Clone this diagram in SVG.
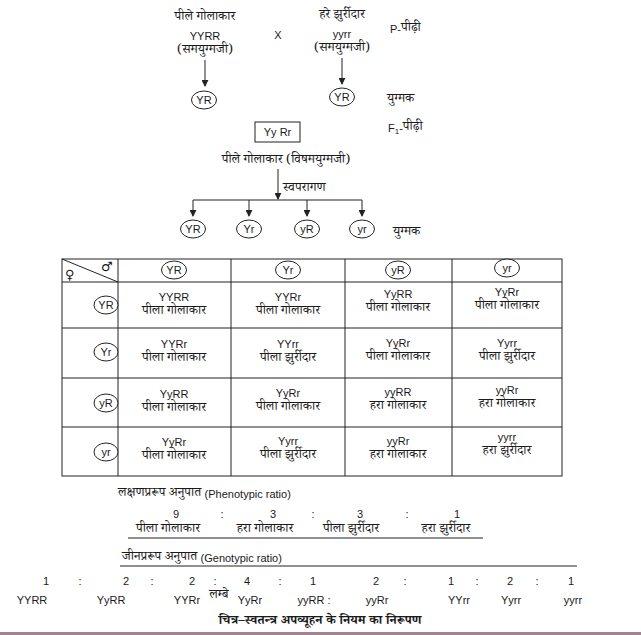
<svg xmlns="http://www.w3.org/2000/svg" width="641" height="635" viewBox="0 0 641 635">
<style>
text{fill:#1a1a1a;dominant-baseline:central}
.h{font-family:'Noto Serif Devanagari','Noto Sans Devanagari','Lohit Devanagari',FreeSerif,serif;font-size:13px}
.l{font-family:'Liberation Sans',Arial,sans-serif;font-size:11px}
.s{font-family:'DejaVu Sans',sans-serif;font-size:13px}
.m{text-anchor:middle}
.b{font-weight:bold;font-size:13px}
.ln{stroke:#222;stroke-width:1;fill:none}
.el{stroke:#222;stroke-width:1;fill:#fff}
</style>
<defs>
<marker id="ah" viewBox="0 0 8 8" refX="7" refY="4" markerWidth="7" markerHeight="7" orient="auto" markerUnits="userSpaceOnUse">
<path d="M0,0 L8,4 L0,8 Z" fill="#222"/>
</marker>
</defs>
<rect width="641" height="635" fill="#fff"/>

<g id="connectors" class="ln">
<line x1="205" y1="60" x2="205" y2="86" marker-end="url(#ah)"/>
<line x1="342" y1="58" x2="342" y2="84" marker-end="url(#ah)"/>
<line x1="278" y1="169" x2="278" y2="199" marker-end="url(#ah)"/>
<line x1="193" y1="200" x2="362" y2="200"/>
<line x1="193" y1="200" x2="193" y2="216" marker-end="url(#ah)"/>
<line x1="249" y1="200" x2="249" y2="216" marker-end="url(#ah)"/>
<line x1="307" y1="200" x2="307" y2="216" marker-end="url(#ah)"/>
<line x1="362" y1="200" x2="362" y2="216" marker-end="url(#ah)"/>
</g>

<g id="parent1">
<text class="h m" x="205" y="18">पीले गोलाकार</text>
<text class="l m" x="205" y="36">YYRR</text>
<text class="h m" x="205" y="51">(समयुग्मजी)</text>
</g>
<g id="cross"><text class="l m" x="278" y="35">X</text></g>
<g id="parent2">
<text class="h m" x="342" y="16">हरे झुर्रीदार</text>
<text class="l m" x="342" y="34">yyrr</text>
<text class="h m" x="342" y="49">(समयुग्मजी)</text>
</g>
<g id="label-p"><text class="l" x="390" y="29">P-<tspan class="h">पीढ़ी</tspan></text></g>
<g id="gamete1"><ellipse class="el" cx="204" cy="100" rx="12.5" ry="9"/><text class="l m" x="204" y="100">YR</text></g>
<g id="gamete2"><ellipse class="el" cx="342" cy="97" rx="12.5" ry="9"/><text class="l m" x="342" y="97">YR</text></g>
<g id="label-gamete1"><text class="h" x="387" y="100">युग्मक</text></g>

<g id="f1">
<rect x="255" y="122" width="45" height="20" fill="#fff" stroke="#222"/>
<text class="l m" x="277.5" y="132">Yy Rr</text>
</g>
<g id="label-f1"><text class="l" x="388" y="128">F<tspan font-size="8" dy="3">1</tspan><tspan dy="-3">-</tspan><tspan class="h">पीढ़ी</tspan></text></g>
<g id="f1-pheno"><text class="h m" x="286" y="161">पीले गोलाकार (विषमयुग्मजी)</text></g>
<g id="self"><text class="h" x="283" y="189">स्वपरागण</text></g>

<g id="g-YR"><ellipse class="el" cx="193" cy="229" rx="12.5" ry="9"/><text class="l m" x="193" y="229">YR</text></g>
<g id="g-Yr"><ellipse class="el" cx="249" cy="229" rx="12.5" ry="9"/><text class="l m" x="249" y="229">Yr</text></g>
<g id="g-yR"><ellipse class="el" cx="307" cy="229" rx="12.5" ry="9"/><text class="l m" x="307" y="229">yR</text></g>
<g id="g-yr"><ellipse class="el" cx="362" cy="229" rx="12.5" ry="9"/><text class="l m" x="362" y="229">yr</text></g>
<g id="label-gamete2"><text class="h" x="393" y="233">युग्मक</text></g>

<g id="punnett">
<g class="ln">
<rect x="62" y="259" width="500" height="217"/>
<line x1="62" y1="282" x2="562" y2="282"/>
<line x1="62" y1="328" x2="562" y2="328"/>
<line x1="62" y1="378" x2="562" y2="378"/>
<line x1="62" y1="427" x2="562" y2="427"/>
<line x1="118" y1="259" x2="118" y2="476"/>
<line x1="231" y1="259" x2="231" y2="476"/>
<line x1="345" y1="259" x2="345" y2="476"/>
<line x1="452" y1="259" x2="452" y2="476"/>
<line x1="62" y1="259" x2="118" y2="282"/>
</g>
<text class="s" x="65" y="274">♀</text>
<text class="s" x="101" y="266">♂</text>
<ellipse class="el" cx="174" cy="270" rx="12.5" ry="9"/><text class="l m" x="174" y="270">YR</text>
<ellipse class="el" cx="288" cy="270" rx="12.5" ry="9"/><text class="l m" x="288" y="270">Yr</text>
<ellipse class="el" cx="398" cy="270" rx="12.5" ry="9"/><text class="l m" x="398" y="270">yR</text>
<ellipse class="el" cx="507" cy="268" rx="12.5" ry="9"/><text class="l m" x="507" y="268">yr</text>
<ellipse class="el" cx="106" cy="305" rx="12" ry="9"/><text class="l m" x="106" y="305">YR</text>
<ellipse class="el" cx="106" cy="352" rx="12" ry="9"/><text class="l m" x="106" y="352">Yr</text>
<ellipse class="el" cx="106" cy="403" rx="12" ry="9"/><text class="l m" x="106" y="403">yR</text>
<ellipse class="el" cx="106" cy="452" rx="12" ry="9"/><text class="l m" x="106" y="452">yr</text>

<text class="l m" x="174" y="297">YYRR</text><text class="h m" x="174" y="312">पीला गोलाकार</text>
<text class="l m" x="288" y="297">YYRr</text><text class="h m" x="288" y="312">पीला गोलाकार</text>
<text class="l m" x="398" y="294">YyRR</text><text class="h m" x="398" y="309">पीला गोलाकार</text>
<text class="l m" x="507" y="292">YyRr</text><text class="h m" x="507" y="307">पीला गोलाकार</text>

<text class="l m" x="174" y="344">YYRr</text><text class="h m" x="174" y="359">पीला गोलाकार</text>
<text class="l m" x="288" y="344">YYrr</text><text class="h m" x="288" y="359">पीला झुर्रीदार</text>
<text class="l m" x="398" y="343">YyRr</text><text class="h m" x="398" y="358">पीला गोलाकार</text>
<text class="l m" x="507" y="343">Yyrr</text><text class="h m" x="507" y="358">पीला झुर्रीदार</text>

<text class="l m" x="174" y="394">YyRR</text><text class="h m" x="174" y="409">पीला गोलाकार</text>
<text class="l m" x="288" y="393">YyRr</text><text class="h m" x="288" y="408">पीला गोलाकार</text>
<text class="l m" x="398" y="392">yyRR</text><text class="h m" x="398" y="407">हरा गोलाकार</text>
<text class="l m" x="507" y="390">yyRr</text><text class="h m" x="507" y="405">हरा गोलाकार</text>

<text class="l m" x="174" y="442">YyRr</text><text class="h m" x="174" y="457">पीला गोलाकार</text>
<text class="l m" x="288" y="441">Yyrr</text><text class="h m" x="288" y="456">पीला झुर्रीदार</text>
<text class="l m" x="398" y="441">yyRr</text><text class="h m" x="398" y="456">हरा गोलाकार</text>
<text class="l m" x="507" y="437">yyrr</text><text class="h m" x="507" y="452">हरा झुर्रीदार</text>
</g>

<g id="phenotypic-ratio">
<text class="h" x="118" y="494">लक्षणप्ररूप अनुपात <tspan class="l">(Phenotypic ratio)</tspan></text>
<text class="l m" x="176" y="514">9</text><text class="l m" x="222" y="514">:</text>
<text class="l m" x="273" y="514">3</text><text class="l m" x="313" y="514">:</text>
<text class="l m" x="360" y="514">3</text><text class="l m" x="407" y="514">:</text>
<text class="l m" x="457" y="514">1</text>
<text class="h m" x="168" y="530">पीला गोलाकार</text>
<text class="h m" x="265" y="530">हरा गोलाकार</text>
<text class="h m" x="351" y="530">पीला झुर्रीदार</text>
<text class="h m" x="446" y="530">हरा झुर्रीदार</text>
<line class="ln" x1="128" y1="538" x2="483" y2="538"/>
</g>

<g id="genotypic-ratio">
<text class="h" x="122" y="558">जीनप्ररूप अनुपात <tspan class="l">(Genotypic ratio)</tspan></text>
<line class="ln" x1="120" y1="566" x2="577" y2="566"/>
<text class="l m" x="46" y="581">1</text><text class="l m" x="80" y="581">:</text>
<text class="l m" x="126" y="581">2</text><text class="l m" x="152" y="581">:</text>
<text class="l m" x="192" y="581">2</text><text class="l m" x="215" y="581">:</text>
<text class="l m" x="247" y="581">4</text><text class="l m" x="280" y="581">:</text>
<text class="l m" x="313" y="581">1</text>
<text class="l m" x="376" y="581">2</text><text class="l m" x="405" y="581">:</text>
<text class="l m" x="451" y="581">1</text><text class="l m" x="477" y="581">:</text>
<text class="l m" x="510" y="581">2</text><text class="l m" x="537" y="581">:</text>
<text class="l m" x="571" y="581">1</text>
<text class="l m" x="32" y="600">YYRR</text>
<text class="l m" x="111" y="600">YyRR</text>
<text class="l m" x="187" y="600">YYRr</text>
<text class="h m" x="219" y="596" font-size="10">लम्बे</text>
<text class="l m" x="250" y="600">YyRr</text>
<text class="l m" x="314" y="600">yyRR :</text>
<text class="l m" x="377" y="600">yyRr</text>
<text class="l m" x="459" y="600">YYrr</text>
<text class="l m" x="511" y="600">Yyrr</text>
<text class="l m" x="573" y="600">yyrr</text>
</g>

<g id="caption"><text class="h b m" x="320" y="622">चित्र–स्वतन्त्र अपव्यूहन के नियम का निरूपण</text></g>
<line x1="0" y1="633.5" x2="641" y2="633.5" stroke="#a08494" stroke-width="3"/>
</svg>
